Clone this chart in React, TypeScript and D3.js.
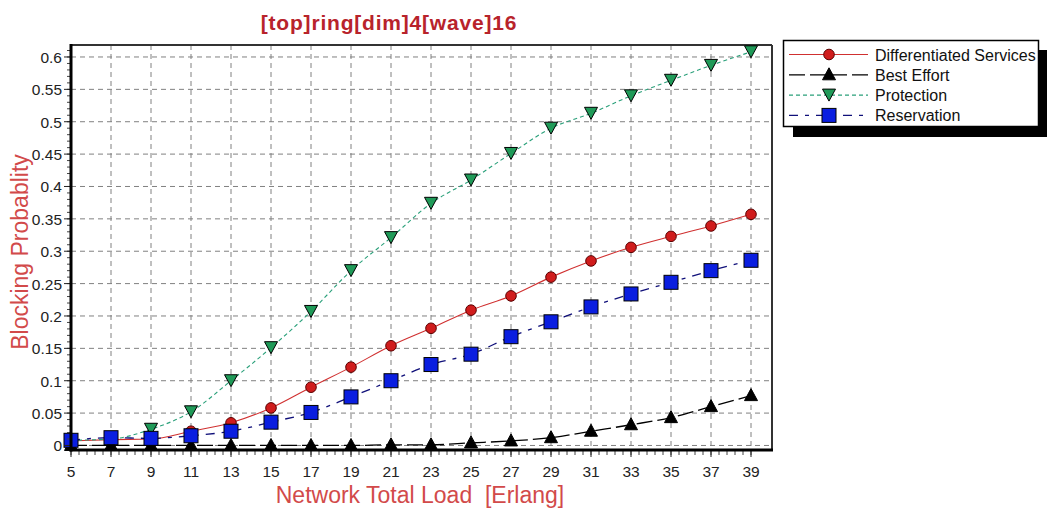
import { useEffect, useRef } from 'react';
import * as d3 from 'd3';

const LOADS = [5, 7, 9, 11, 13, 15, 17, 19, 21, 23, 25, 27, 29, 31, 33, 35, 37, 39];
const DIFF_SERV = [0.007, 0.009, 0.01, 0.022, 0.035, 0.058, 0.09, 0.121, 0.154, 0.181, 0.209, 0.231, 0.26, 0.285, 0.306, 0.323, 0.339, 0.357];
const BEST_EFFORT = [0, 0, 0, 0, 0, 0, 0, 0, 0.001, 0.001, 0.004, 0.007, 0.012, 0.022, 0.032, 0.043, 0.06, 0.077];
const PROTECTION = [0.008, 0.01, 0.025, 0.052, 0.1, 0.151, 0.207, 0.27, 0.321, 0.374, 0.41, 0.451, 0.49, 0.513, 0.54, 0.564, 0.587, 0.608];
const RESERVATION = [0.008, 0.012, 0.011, 0.015, 0.022, 0.036, 0.051, 0.075, 0.1, 0.125, 0.141, 0.168, 0.191, 0.214, 0.234, 0.252, 0.27, 0.286];
const Y_TICKS = [0, 0.05, 0.1, 0.15, 0.2, 0.25, 0.3, 0.35, 0.4, 0.45, 0.5, 0.55, 0.6];

const FONT = 'Arial, "Liberation Sans", sans-serif';
const TITLE_RED = '#b8232b';
const LABEL_RED = '#d24a4a';
const GRID = '#808080';

type Marker = 'circle' | 'triUp' | 'triDown' | 'square';

const SERIES: { name: string; values: number[]; color: string; dash: string; width: number; marker: Marker; fill: string }[] = [
  { name: 'Differentiated Services', values: DIFF_SERV, color: '#d03030', dash: '', width: 1.1, marker: 'circle', fill: '#d01c1c' },
  { name: 'Best Effort', values: BEST_EFFORT, color: '#000000', dash: '16 5', width: 1.3, marker: 'triUp', fill: '#000000' },
  { name: 'Protection', values: PROTECTION, color: '#2aa07a', dash: '4 3', width: 1.1, marker: 'triDown', fill: '#1f9a58' },
  { name: 'Reservation', values: RESERVATION, color: '#10107a', dash: '9 7 4 7', width: 1.3, marker: 'square', fill: '#0a1ee0' },
];

function drawMarker(g: d3.Selection<SVGGElement, unknown, null, undefined>, kind: Marker, x: number, y: number, fill: string) {
  if (kind === 'circle') {
    g.append('circle').attr('cx', x).attr('cy', y).attr('r', 5.3).attr('fill', fill).attr('stroke', '#5a0000').attr('stroke-width', 1);
  } else if (kind === 'square') {
    g.append('rect').attr('x', x - 7).attr('y', y - 7).attr('width', 14).attr('height', 14).attr('fill', fill).attr('stroke', '#000').attr('stroke-width', 1);
  } else if (kind === 'triUp') {
    g.append('path').attr('d', `M${x},${y - 7}L${x + 6.5},${y + 5}L${x - 6.5},${y + 5}Z`).attr('fill', fill).attr('stroke', '#000');
  } else {
    g.append('path').attr('d', `M${x - 6.5},${y - 6}L${x + 6.5},${y - 6}L${x},${y + 6}Z`).attr('fill', fill).attr('stroke', '#000');
  }
}

export default function App() {
  const ref = useRef<SVGSVGElement>(null);

  useEffect(() => {
    const svg = d3.select(ref.current);
    if (!svg.node()) return;
    svg.selectAll('*').remove();

    const x = d3.scaleLinear().domain([5, 40.05]).range([71, 772]);
    const y = d3.scaleLinear().domain([-0.007, 0.6185]).range([450, 45]);
    const [x0, x1] = x.range();
    const [yB, yT] = y.range();

    const g = svg.append('g');

    // grid
    g.selectAll('line.hgrid')
      .data(Y_TICKS)
      .join('line')
      .attr('x1', x0).attr('x2', x1)
      .attr('y1', (d) => y(d)).attr('y2', (d) => y(d))
      .attr('stroke', GRID).attr('stroke-dasharray', '5 4');
    g.selectAll('line.vgrid')
      .data(LOADS.slice(1))
      .join('line')
      .attr('x1', (d) => x(d)).attr('x2', (d) => x(d))
      .attr('y1', yT).attr('y2', yB)
      .attr('stroke', GRID).attr('stroke-dasharray', '5 4');

    // frame top/right
    g.append('line').attr('x1', x0).attr('x2', x1).attr('y1', yT).attr('y2', yT).attr('stroke', '#333').attr('stroke-width', 2);
    g.append('line').attr('x1', x1).attr('x2', x1).attr('y1', yT).attr('y2', yB).attr('stroke', '#333').attr('stroke-width', 2);

    // series
    const line = d3
      .line<number>()
      .x((_, i) => x(LOADS[i]))
      .y((d) => y(d))
      .curve(d3.curveMonotoneX);

    SERIES.forEach((s) => {
      g.append('path')
        .attr('d', line(s.values))
        .attr('fill', 'none')
        .attr('stroke', s.color)
        .attr('stroke-width', s.width)
        .attr('stroke-dasharray', s.dash || null);
    });
    SERIES.forEach((s) => {
      const mg = g.append('g');
      s.values.forEach((v, i) => drawMarker(mg, s.marker, x(LOADS[i]), y(v), s.fill));
    });

    // axes
    const minorY = d3.range(0, 0.6101, 0.01);
    g.selectAll('line.ymin')
      .data(minorY)
      .join('line')
      .attr('x1', x0 - 4).attr('x2', x0)
      .attr('y1', (d) => y(d)).attr('y2', (d) => y(d))
      .attr('stroke', '#444');
    g.selectAll('line.ymaj')
      .data(Y_TICKS)
      .join('line')
      .attr('x1', x0 - 7).attr('x2', x0)
      .attr('y1', (d) => y(d)).attr('y2', (d) => y(d))
      .attr('stroke', '#222');
    g.selectAll('text.ylab')
      .data(Y_TICKS)
      .join('text')
      .attr('x', x0 - 9)
      .attr('y', (d) => y(d) + 6)
      .attr('text-anchor', 'end')
      .attr('font-family', FONT)
      .attr('font-size', 15.5)
      .attr('fill', '#222')
      .text((d) => String(d));

    const minorX = d3.range(5, 39.01, 0.4);
    g.selectAll('line.xmin')
      .data(minorX)
      .join('line')
      .attr('x1', (d) => x(d)).attr('x2', (d) => x(d))
      .attr('y1', yB).attr('y2', yB + 5)
      .attr('stroke', '#444');
    g.selectAll('line.xmaj')
      .data(LOADS)
      .join('line')
      .attr('x1', (d) => x(d)).attr('x2', (d) => x(d))
      .attr('y1', yB).attr('y2', yB + 7)
      .attr('stroke', '#222');
    g.selectAll('text.xlab')
      .data(LOADS)
      .join('text')
      .attr('x', (d) => x(d))
      .attr('y', yB + 27)
      .attr('text-anchor', 'middle')
      .attr('font-family', FONT)
      .attr('font-size', 15.5)
      .attr('fill', '#222')
      .text((d) => String(d));

    g.append('line').attr('x1', x0).attr('x2', x0).attr('y1', yT - 1).attr('y2', yB + 1.5).attr('stroke', '#000').attr('stroke-width', 3);
    g.append('line').attr('x1', x0 - 1.5).attr('x2', x1 + 1).attr('y1', yB).attr('y2', yB).attr('stroke', '#000').attr('stroke-width', 3);

    // titles
    g.append('text')
      .attr('x', 389).attr('y', 30)
      .attr('text-anchor', 'middle')
      .attr('font-family', FONT).attr('font-weight', 'bold').attr('font-size', 21)
      .attr('letter-spacing', 0.8)
      .attr('fill', TITLE_RED)
      .text('[top]ring[dim]4[wave]16');
    g.append('text')
      .attr('x', 420).attr('y', 503)
      .attr('text-anchor', 'middle')
      .attr('font-family', FONT).attr('font-size', 23)
      .attr('fill', LABEL_RED)
      .attr('xml:space', 'preserve')
      .text('Network Total Load  [Erlang]');
    g.append('text')
      .attr('transform', 'translate(28,252) rotate(-90)')
      .attr('text-anchor', 'middle')
      .attr('font-family', FONT).attr('font-size', 23)
      .attr('fill', LABEL_RED)
      .text('Blocking Probablity');

    // legend
    const lg = g.append('g');
    lg.append('rect').attr('x', 793).attr('y', 50).attr('width', 254).attr('height', 87).attr('fill', '#000');
    lg.append('rect').attr('x', 783.5).attr('y', 40.5).attr('width', 255).attr('height', 86).attr('fill', '#fff').attr('stroke', '#000').attr('stroke-width', 1.5);
    SERIES.forEach((s, i) => {
      const ly = 54.5 + i * 20.3;
      lg.append('line')
        .attr('x1', 789).attr('x2', 868).attr('y1', ly).attr('y2', ly)
        .attr('stroke', s.color).attr('stroke-width', s.width)
        .attr('stroke-dasharray', s.dash || null);
      const mg = lg.append('g');
      drawMarker(mg, s.marker, 829, ly, s.fill);
      lg.append('text')
        .attr('x', 875).attr('y', ly + 6)
        .attr('font-family', FONT).attr('font-size', 16)
        .attr('fill', '#111')
        .text(s.name);
    });
  }, []);

  return (
    <svg
      ref={ref}
      width={1047}
      height={508}
      style={{ position: 'absolute', left: 0, top: 0, background: '#fff' }}
    />
  );
}
